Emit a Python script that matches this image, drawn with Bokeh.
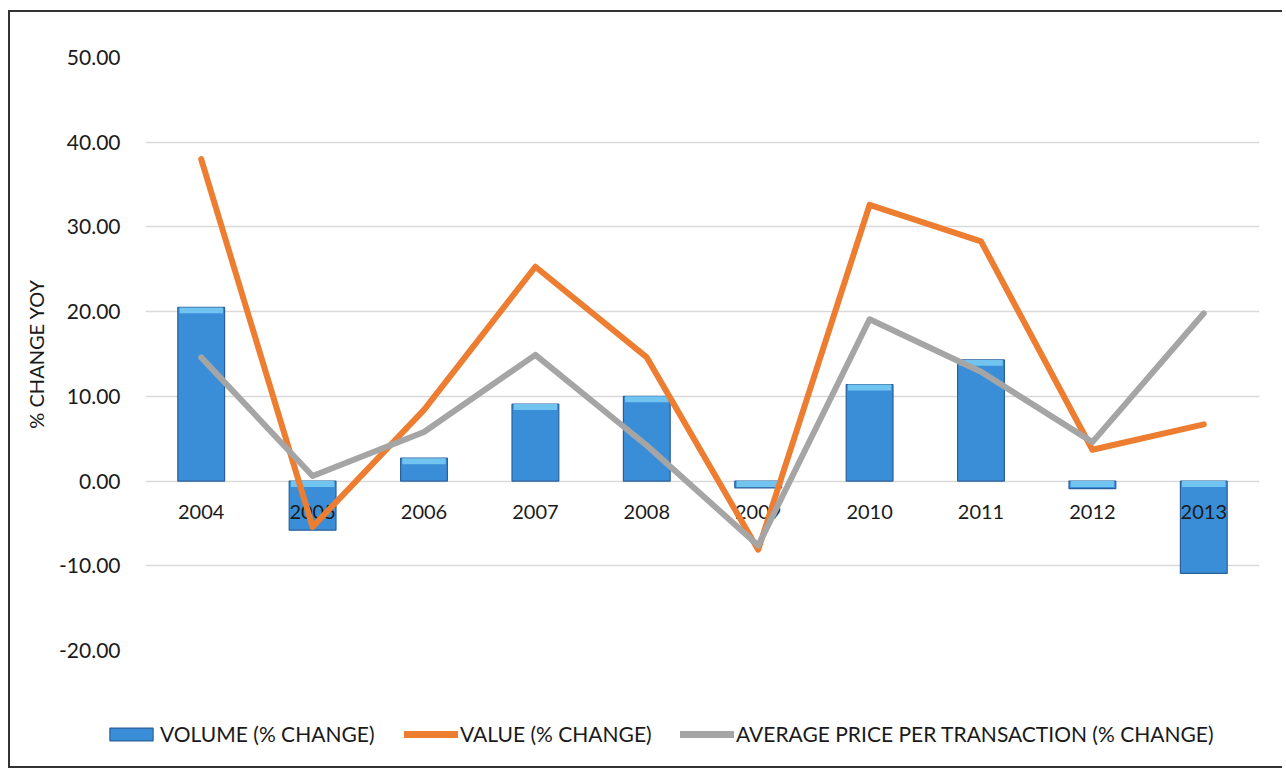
from bokeh.plotting import figure
from bokeh.models import (Range1d, FactorRange, ColumnDataSource, Legend, LegendItem,
                          NumeralTickFormatter, FixedTicker)
from bokeh.core.properties import value
from bokeh.embed import file_html
from bokeh.resources import INLINE

years = ["2004", "2005", "2006", "2007", "2008", "2009", "2010", "2011", "2012", "2013"]
volume = [20.5, -5.8, 2.7, 9.1, 10.0, -0.8, 11.4, 14.3, -0.9, -10.9]
value_chg = [38.0, -5.4, 8.4, 25.3, 14.6, -8.1, 32.6, 28.3, 3.7, 6.7]
avg_price = [14.6, 0.6, 5.8, 14.9, 4.2, -7.6, 19.1, 12.9, 4.6, 19.8]
y_ticks = [-20, -10, 0, 10, 20, 30, 40, 50]
series_labels = ["VOLUME (% CHANGE)", "VALUE (% CHANGE)",
                 "AVERAGE PRICE PER TRANSACTION (% CHANGE)"]

FONT = "Lato"
FS = "20px"
BAR_FILL, BAR_LINE, BAR_HI = "#3a8ed8", "#2a609a", "#72c4f0"
ORANGE, GREY = "#ED7D31", "#A5A5A5"
BORDER = "2px solid #333333"

src = ColumnDataSource(dict(x=years, vol=volume, val=value_chg, avg=avg_price,
                            zero=[0] * len(years),
                            band_top=[max(v, 0) for v in volume],
                            band_bot=[max(v, 0) - min(0.7, abs(v)) for v in volume]))

p = figure(width=1274, height=690, x_range=FactorRange(*years), y_range=Range1d(-20, 50),
           output_backend="svg", toolbar_location=None, x_axis_location=None,
           min_border_left=135, min_border_right=25, min_border_top=45, min_border_bottom=52)
p.outline_line_color = None
p.background_fill_color = "white"
p.border_fill_color = "white"
p.styles = {"margin-left": "8px", "margin-top": "10px",
            "border-left": BORDER, "border-top": BORDER}

yax = p.yaxis[0]
yax.ticker = FixedTicker(ticks=y_ticks)
yax.formatter = NumeralTickFormatter(format="0.00")
yax.axis_line_color = None
yax.major_tick_line_color = None
yax.minor_tick_line_color = None
yax.major_label_text_font = FONT
yax.major_label_text_font_size = "21px"
yax.major_label_text_color = "#1a1a1a"
yax.major_label_standoff = 19
yax.axis_label = "% CHANGE YOY"
yax.axis_label_text_font = FONT
yax.axis_label_text_font_size = "20px"
yax.axis_label_text_font_style = "normal"
yax.axis_label_text_color = "#1a1a1a"
yax.axis_label_standoff = 8

p.xgrid.grid_line_color = None
p.ygrid.grid_line_color = "#d9d9d9"
p.ygrid.grid_line_width = 1.5
p.ygrid.ticker = FixedTicker(ticks=y_ticks)

p.vbar(x="x", top="vol", bottom=0, width=0.42, source=src,
       fill_color=BAR_FILL, line_color=BAR_LINE, line_width=1.2)
p.vbar(x="x", top="band_top", bottom="band_bot", width=0.39, source=src,
       fill_color=BAR_HI, line_color=None)

p.text(x="x", y="zero", text="x", source=src, y_offset=31,
       text_align="center", text_baseline="middle",
       text_font=value(FONT), text_font_size=FS, text_color="#1a1a1a")

p.line(x="x", y="val", source=src, line_color=ORANGE, line_width=6,
       line_cap="round", line_join="round")
p.line(x="x", y="avg", source=src, line_color=GREY, line_width=6,
       line_cap="round", line_join="round")

# legend strip: its own canvas, so the legend is not clipped by the plot frame;
# its renderers draw the same data far outside its visible y range
lf = figure(width=1274, height=68, x_range=FactorRange(*years), y_range=Range1d(1000, 1001),
            output_backend="svg", toolbar_location=None,
            x_axis_location=None, y_axis_location=None,
            min_border_left=0, min_border_right=0, min_border_top=0, min_border_bottom=0)
lf.outline_line_color = None
lf.grid.visible = False
lf.styles = {"margin-left": "8px", "border-left": BORDER, "border-bottom": BORDER}
r_bar = lf.vbar(x="x", top="vol", width=0.42, source=src,
                fill_color=BAR_FILL, line_color=BAR_LINE, line_width=1.2)
r_val = lf.line(x="x", y="val", source=src, line_color=ORANGE, line_width=7, line_cap="round")
r_avg = lf.line(x="x", y="avg", source=src, line_color=GREY, line_width=7, line_cap="round")

for label, rend, xpos in zip(series_labels, [r_bar, r_val, r_avg], [94, 394, 670]):
    lg = Legend(items=[LegendItem(label=label, renderers=[rend])], location=(xpos, 22),
                orientation="horizontal", padding=0, margin=0, spacing=0,
                glyph_width=54, glyph_height=16, label_standoff=2,
                label_text_font=FONT, label_text_font_size="21px", label_text_color="#1a1a1a",
                border_line_color=None, background_fill_alpha=0)
    lf.add_layout(lg, "center")

open("out.html", "w").write(file_html([p, lf], INLINE))
